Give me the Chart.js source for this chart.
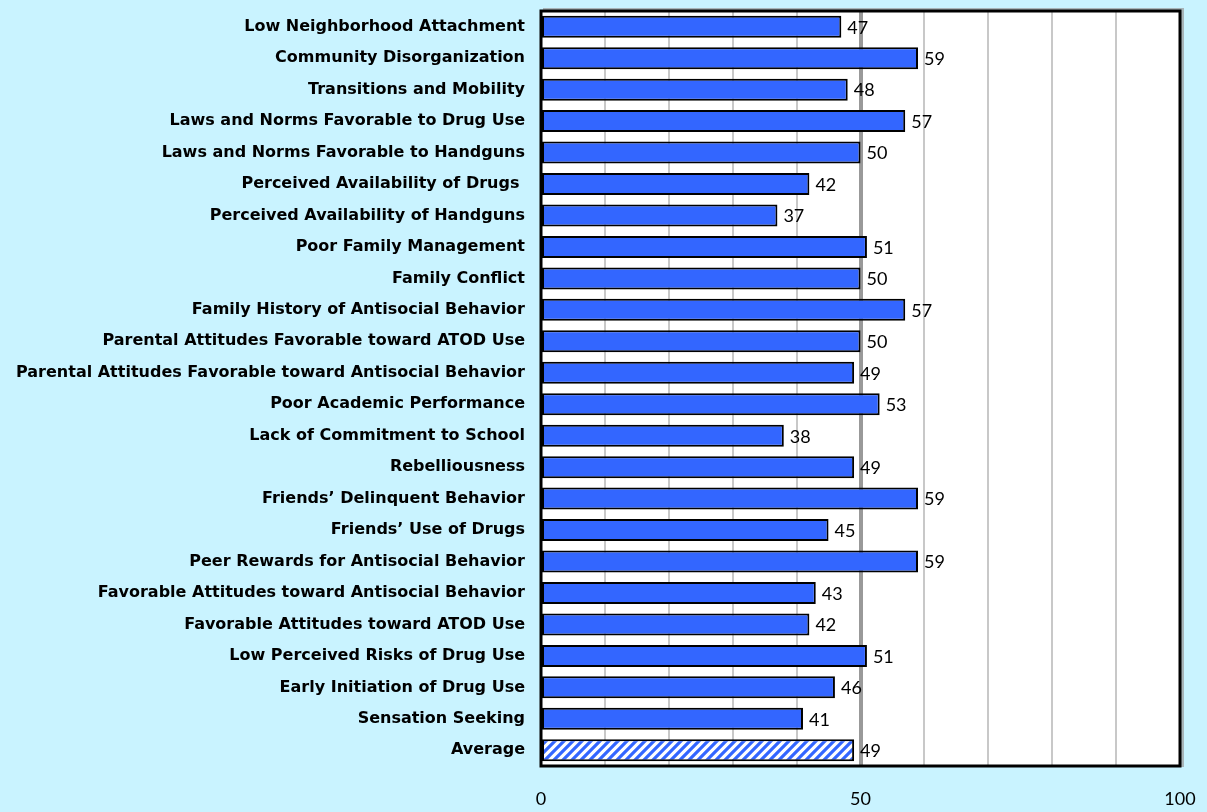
<!DOCTYPE html>
<html>
<head>
<meta charset="utf-8">
<script src="https://cdn.jsdelivr.net/npm/chart.js@4/dist/chart.umd.min.js"></script>
<style>
  html, body { margin: 0; padding: 0; background: #c9f3ff; }
  #wrap { width: 1207px; height: 812px; }
</style>
</head>
<body>
<div id="wrap"><canvas id="chart" width="1207" height="812"></canvas></div>
<script>
const categories = [
  "Low Neighborhood Attachment",
  "Community Disorganization",
  "Transitions and Mobility",
  "Laws and Norms Favorable to Drug Use",
  "Laws and Norms Favorable to Handguns",
  "Perceived Availability of Drugs ",
  "Perceived Availability of Handguns",
  "Poor Family Management",
  "Family Conflict",
  "Family History of Antisocial Behavior",
  "Parental Attitudes Favorable toward ATOD Use",
  "Parental Attitudes Favorable toward Antisocial Behavior",
  "Poor Academic Performance",
  "Lack of Commitment to School",
  "Rebelliousness",
  "Friends\u2019 Delinquent Behavior",
  "Friends\u2019 Use of Drugs",
  "Peer Rewards for Antisocial Behavior",
  "Favorable Attitudes toward Antisocial Behavior",
  "Favorable Attitudes toward ATOD Use",
  "Low Perceived Risks of Drug Use",
  "Early Initiation of Drug Use",
  "Sensation Seeking",
  "Average"
];
const values = [47, 59, 48, 57, 50, 42, 37, 51, 50, 57, 50, 49, 53, 38, 49, 59, 45, 59, 43, 42, 51, 46, 41, 49];
const tickLabels = [0, 50, 100];

const LABEL_FONT = "'Century Gothic', 'DejaVu Sans', sans-serif";
const NUM_FONT = "'Century Gothic', Lato, 'DejaVu Sans', sans-serif";

// diagonal hatch for the Average bar
function makeHatch() {
  const n = 9;
  const c = document.createElement('canvas');
  c.width = n; c.height = n;
  const g = c.getContext('2d');
  g.fillStyle = '#ffffff';
  g.fillRect(0, 0, n, n);
  g.strokeStyle = '#3366ff';
  g.lineWidth = 3.2;
  g.beginPath();
  g.moveTo(-2, n + 2); g.lineTo(n + 2, -2);
  g.moveTo(-3, 3); g.lineTo(3, -3);
  g.moveTo(n - 3, n + 3); g.lineTo(n + 3, n - 3);
  g.stroke();
  return g.createPattern(c, 'repeat');
}
const hatch = makeHatch();

const plotBox = {
  id: 'plotBox',
  beforeDraw(chart) {
    const a = chart.chartArea, ctx = chart.ctx;
    ctx.save();
    ctx.fillStyle = '#a8b4b8';
    ctx.fillRect(a.left + 2, a.top - 3, a.right - a.left + 2, a.bottom - a.top + 4);
    ctx.fillStyle = '#ffffff';
    ctx.fillRect(a.left, a.top, a.right - a.left, a.bottom - a.top);
    ctx.restore();
  },
  afterDraw(chart) {
    const a = chart.chartArea, ctx = chart.ctx;
    ctx.save();
    ctx.strokeStyle = '#000';
    ctx.lineWidth = 3;
    ctx.strokeRect(a.left, a.top, a.right - a.left, a.bottom - a.top);
    ctx.restore();
  }
};

const valueLabels = {
  id: 'valueLabels',
  afterDatasetsDraw(chart) {
    const ctx = chart.ctx;
    const meta = chart.getDatasetMeta(0);
    ctx.save();
    ctx.font = '18px ' + NUM_FONT;
    ctx.fillStyle = '#000';
    ctx.textBaseline = 'middle';
    ctx.textAlign = 'left';
    meta.data.forEach((bar, i) => {
      ctx.fillText(values[i], bar.x + 6, bar.y + 1);
    });
    ctx.restore();
  }
};

new Chart(document.getElementById('chart'), {
  type: 'bar',
  data: {
    labels: categories,
    datasets: [{
      data: values,
      backgroundColor: values.map((v, i) => i === values.length - 1 ? hatch : '#3366ff'),
      borderColor: '#000',
      borderWidth: 2,
      borderSkipped: false,
      barPercentage: 0.7,
      categoryPercentage: 1
    }]
  },
  options: {
    indexAxis: 'y',
    responsive: false,
    animation: false,
    layout: { padding: { top: 11, right: 27, left: 0, bottom: 0 } },
    plugins: {
      legend: { display: false },
      tooltip: { enabled: false }
    },
    scales: {
      x: {
        min: 0,
        max: 100,
        afterFit(scale) {
          scale.height = 46;
          scale.paddingLeft = 0;
          scale.paddingRight = 0;
        },
        ticks: {
          stepSize: 10,
          padding: 22,
          color: '#000',
          font: { family: NUM_FONT, size: 18 },
          callback(v) { return tickLabels.includes(v) ? String(v) : ''; }
        },
        grid: {
          drawTicks: false,
          color: ctx => ctx.tick && ctx.tick.value === 50 ? '#999999' : '#c8c8c8',
          lineWidth: ctx => ctx.tick && ctx.tick.value === 50 ? 4 : 2
        },
        border: { display: false }
      },
      y: {
        afterFit(scale) {
          scale.width = 541;
          scale.paddingTop = 0;
          scale.paddingBottom = 0;
        },
        ticks: {
          padding: 16,
          color: '#000',
          autoSkip: false,
          font: { family: LABEL_FONT, size: 16, weight: 'bold' }
        },
        grid: { display: false, drawTicks: false },
        border: { display: false }
      }
    }
  },
  plugins: [plotBox, valueLabels]
});
</script>
</body>
</html>
